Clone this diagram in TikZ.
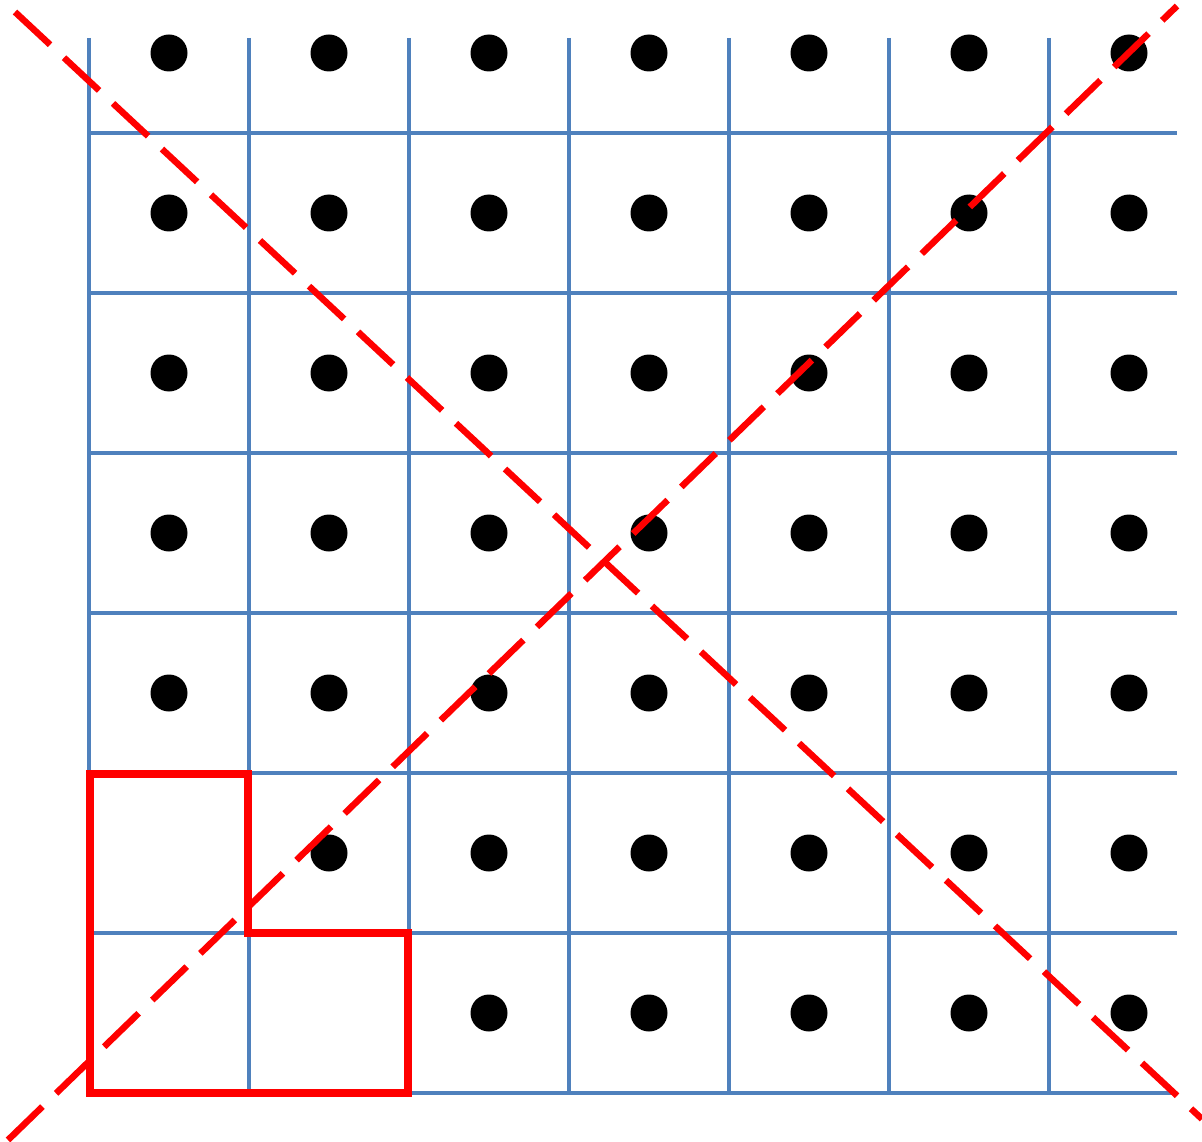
\documentclass[tikz,border=0pt]{standalone}
\begin{document}
\begin{tikzpicture}[x=1pt,y=-1pt,
  gridline/.style={draw=gridblue,line width=3.5pt},
  dot/.style={fill=black},
  redbox/.style={draw=red,line width=7.5pt,line join=miter},
  diag/.style={draw=red,line width=6.5pt,dash pattern=on 48pt off 19pt}]
\definecolor{gridblue}{HTML}{4F81BD}
\useasboundingbox (0,0) rectangle (1202,1142);
% vertical lines
\foreach \i in {0,...,6}{
  \draw[gridline] (89+160*\i,38) -- (89+160*\i,1093);
}
% horizontal lines
\foreach \j in {0,...,6}{
  \draw[gridline] (89,133+160*\j) -- (1177,133+160*\j);
}
% dots
\foreach \i in {0,...,6}{
  \foreach \j in {0,...,6}{
    \pgfmathtruncatemacro{\skip}{(\i==0 && \j>=5) || (\i==1 && \j==6) ? 1 : 0}
    \ifnum\skip=0
      \fill[dot] (169+160*\i,53+160*\j) circle (18.5);
    \fi
  }
}
% red L outline
\draw[redbox] (90,774) -- (248,774) -- (248,933) -- (408,933) -- (408,1093) -- (90,1093) -- cycle;
% dashed diagonals
\draw[diag] (15,12) -- (1202,1119);
\draw[diag] (8,1140) -- (1177,6);
\end{tikzpicture}
\end{document}
